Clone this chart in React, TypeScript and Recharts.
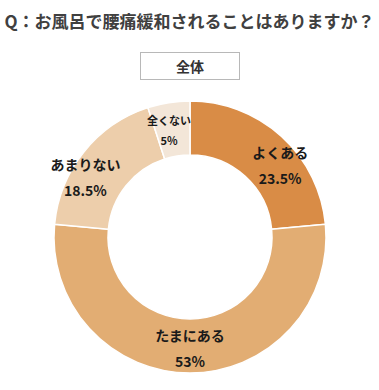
import React from 'react';
import { PieChart, Pie, Cell } from 'recharts';

const categories = ['よくある', 'たまにある', 'あまりない', '全くない'];
const values = [23.5, 53, 18.5, 5];
const sliceColors = ['#D98C46', '#E2AD73', '#EDCEAB', '#F3E6D8'];
const titleText = 'Q：お風呂で腰痛緩和されることはありますか？';
const groupLabel = '全体';

const data = categories.map((name, i) => ({ name, value: values[i] }));

const RAD = Math.PI / 180;
const FONT = '"Noto Sans CJK JP", "Noto Sans", sans-serif';

const renderLabel = (props: any) => {
  const { cx, cy, midAngle, name, value } = props;
  const c = Math.cos(-midAngle * RAD);
  const s = Math.sin(-midAngle * RAD);
  const rx = 134;
  const ry = 111 - 20 * Math.abs(c);
  const x = cx + rx * c;
  const y = cy + ry * s;
  const small = value < 10;
  const fs = small ? 11 : 14;
  const gap = small ? 10 : 13;
  return (
    <g>
      <text x={x} y={y - gap} textAnchor="middle" dominantBaseline="central" fontSize={fs} fontWeight={700} fill="#1a1a1a" fontFamily={FONT}>
        {name}
      </text>
      <text x={x} y={y + gap} textAnchor="middle" dominantBaseline="central" fontSize={fs} fontWeight={700} fill="#1a1a1a" fontFamily={FONT}>
        {value}%
      </text>
    </g>
  );
};

export default function App() {
  return (
    <div style={{ position: 'absolute', left: 0, top: 0, width: 379, height: 390, background: '#fff', fontFamily: FONT }}>
      <div style={{ position: 'absolute', left: 0, top: 8, width: 379, textAlign: 'center', fontSize: 17, fontWeight: 700, color: '#404040', lineHeight: '26px', whiteSpace: 'nowrap' }}>
        {titleText}
      </div>
      <div style={{ position: 'absolute', left: 140, top: 52, width: 98, height: 26, border: '1px solid #b8b8b8', textAlign: 'center', fontSize: 14, fontWeight: 700, color: '#333', lineHeight: '26px' }}>
        {groupLabel}
      </div>
      <div style={{ position: 'absolute', left: 0, top: 0 }}>
        <PieChart width={379} height={390} margin={{ top: 0, right: 0, bottom: 0, left: 0 }}>
          <Pie
            data={data}
            dataKey="value"
            nameKey="name"
            cx={190}
            cy={237}
            outerRadius={136}
            innerRadius={82}
            startAngle={90}
            endAngle={-270}
            stroke="#ffffff"
            strokeWidth={1.5}
            label={renderLabel}
            labelLine={false}
            isAnimationActive={false}
          >
            {data.map((d, i) => (
              <Cell key={d.name} fill={sliceColors[i]} />
            ))}
          </Pie>
        </PieChart>
      </div>
    </div>
  );
}
